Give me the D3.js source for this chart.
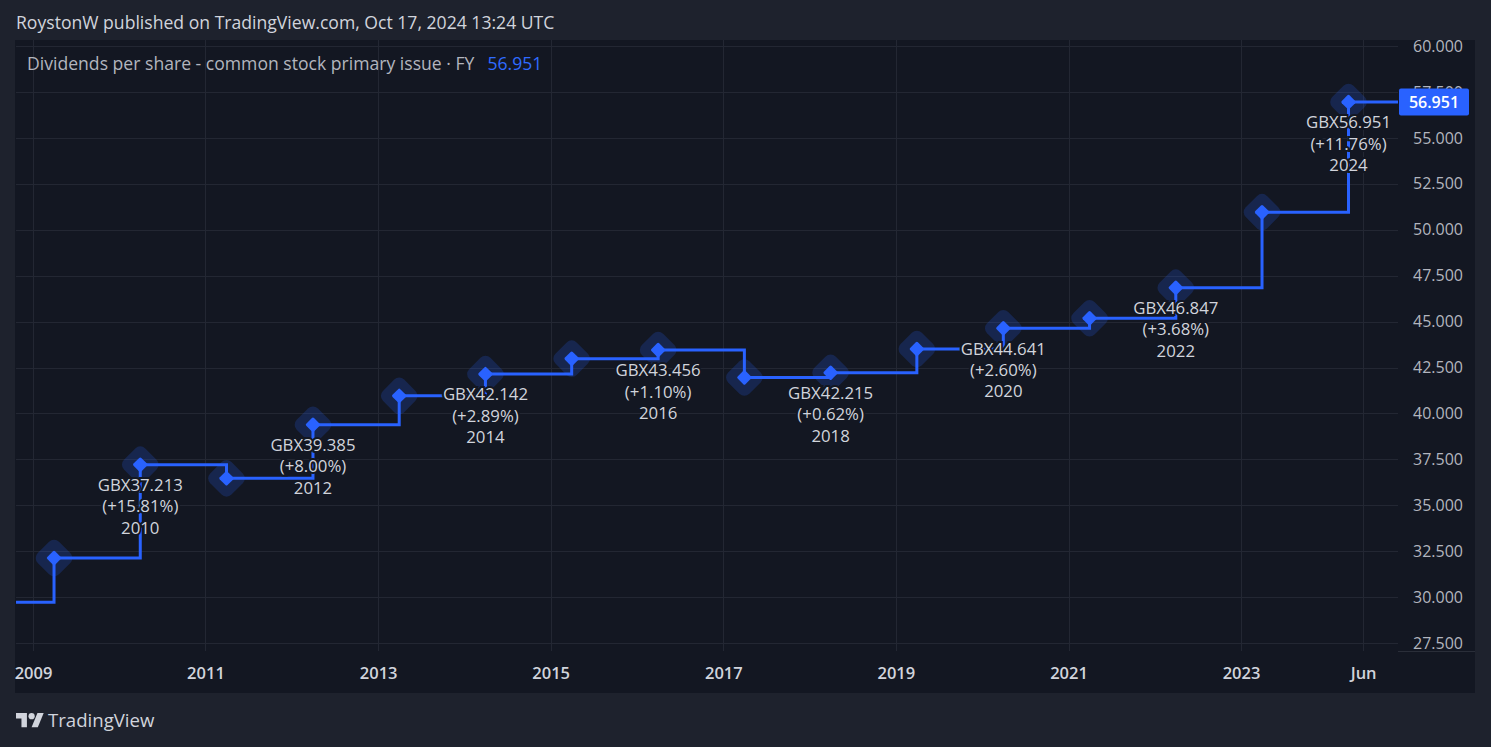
<!DOCTYPE html>
<html>
<head>
<meta charset="utf-8">
<script src="https://cdn.jsdelivr.net/npm/d3@7"></script>
<style>
  html, body { margin: 0; padding: 0; background: #1e222d; }
  svg { display: block; font-family: "Open Sans", sans-serif; }
</style>
</head>
<body>
<div id="chart"></div>
<script>
// fiscal year ends in March, values in GBX
const fiscalYears = [2008, 2009, 2010, 2011, 2012, 2013, 2014, 2015, 2016, 2017, 2018, 2019, 2020, 2021, 2022, 2023, 2024];
const dividends = [29.73, 32.133, 37.213, 36.468, 39.385, 40.958, 42.142, 42.983, 43.456, 41.955, 42.215, 43.510, 44.641, 45.184, 46.847, 50.958, 56.951];

const labelYears = [2010, 2012, 2014, 2016, 2018, 2020, 2022, 2024];
const changes = ["+15.81", "+8.00", "+2.89", "+1.10", "+0.62", "+2.60", "+3.68", "+11.76"];

const xTickDates = ["2009-01-01", "2011-01-01", "2013-01-01", "2015-01-01", "2017-01-01", "2019-01-01", "2021-01-01", "2023-01-01", "2024-06-01"];
const xTickLabels = ["2009", "2011", "2013", "2015", "2017", "2019", "2021", "2023", "Jun"];
const yTicks = [27.5, 30, 32.5, 35, 37.5, 40, 42.5, 45, 47.5, 50, 52.5, 55, 57.5, 60];

const W = 1491, H = 747;
const panel = { left: 15, right: 1475, top: 40, bottom: 693 };
const plot = { left: 16, right: 1398, top: 40, bottom: 651 };
const FONT = "'Open Sans', sans-serif";

const COLORS = {
    page: "#1e222d",
    panel: "#131722",
    grid: "#232733",
    line: "#2962ff",
    halo: "rgba(41,98,255,0.2)",
    text: "#d1d4dc",
    axisText: "#b2b5be"
};

const svg = d3.select("#chart").append("svg")
    .attr("width", W)
    .attr("height", H);

svg.append("rect")
    .attr("width", W).attr("height", H)
    .attr("fill", COLORS.page);

svg.append("rect")
    .attr("x", panel.left).attr("y", panel.top)
    .attr("width", panel.right - panel.left)
    .attr("height", panel.bottom - panel.top)
    .attr("fill", COLORS.panel);

// scales
const x = d3.scaleTime()
    .domain([new Date(2009, 0, 1), new Date(2023, 0, 1)])
    .range([33, 1241]);

const y = d3.scaleLinear()
    .domain([27.07, 60.33])
    .range([plot.bottom, plot.top]);

const points = fiscalYears.map((yr, i) => ({ year: yr, date: new Date(yr, 2, 31), value: dividends[i] }));

svg.append("defs").append("clipPath")
    .attr("id", "plotClip")
    .append("rect")
    .attr("x", plot.left).attr("y", plot.top)
    .attr("width", plot.right - plot.left)
    .attr("height", plot.bottom - plot.top);

// grid
const grid = svg.append("g").attr("clip-path", "url(#plotClip)");
grid.selectAll(".hgrid")
    .data(yTicks)
    .enter().append("line")
    .attr("x1", plot.left).attr("x2", plot.right)
    .attr("y1", d => Math.round(y(d)) + 0.5)
    .attr("y2", d => Math.round(y(d)) + 0.5)
    .attr("stroke", COLORS.grid);

const xTicks = xTickDates.map(d => new Date(d + "T00:00:00"));
grid.selectAll(".vgrid")
    .data(xTicks)
    .enter().append("line")
    .attr("x1", d => Math.round(x(d)) + 0.5)
    .attr("x2", d => Math.round(x(d)) + 0.5)
    .attr("y1", plot.top).attr("y2", plot.bottom)
    .attr("stroke", COLORS.grid);

// axes
const yAxis = d3.axisRight(y)
    .tickValues(yTicks)
    .tickFormat(d3.format(".3f"))
    .tickSize(0)
    .tickPadding(0);

const yAxisG = svg.append("g")
    .attr("transform", `translate(${plot.right + 65},0)`)
    .call(yAxis)
    .attr("font-family", FONT);
yAxisG.select(".domain").remove();
yAxisG.selectAll("text")
    .attr("text-anchor", "end")
    .attr("fill", COLORS.axisText)
    .style("font-size", "16px");

svg.append("line")
    .attr("x1", plot.right).attr("x2", panel.right)
    .attr("y1", plot.bottom + 0.5).attr("y2", plot.bottom + 0.5)
    .attr("stroke", "#2a2e39");

const xAxis = d3.axisBottom(x)
    .tickValues(xTicks)
    .tickFormat((d, i) => xTickLabels[i])
    .tickSize(0)
    .tickPadding(0);

const xAxisG = svg.append("g")
    .attr("transform", `translate(0,${plot.bottom + 16})`)
    .call(xAxis)
    .attr("font-family", FONT);
xAxisG.select(".domain").remove();
xAxisG.selectAll("text")
    .attr("fill", COLORS.text)
    .style("font-size", "16.5px")
    .style("font-weight", "600");

// series
const chartG = svg.append("g").attr("clip-path", "url(#plotClip)");

chartG.selectAll(".halo")
    .data(points)
    .enter().append("rect")
    .attr("x", -15).attr("y", -15)
    .attr("width", 30).attr("height", 30)
    .attr("rx", 7)
    .attr("transform", d => `translate(${x(d.date)},${y(d.value)}) rotate(45)`)
    .attr("fill", COLORS.halo);

const stepLine = d3.line()
    .x(d => x(d.date))
    .y(d => y(d.value))
    .curve(d3.curveStepAfter);

chartG.append("path")
    .datum(points)
    .attr("d", stepLine)
    .attr("fill", "none")
    .attr("stroke", COLORS.line)
    .attr("stroke-width", 3);

const last = points[points.length - 1];
chartG.append("line")
    .attr("x1", x(last.date)).attr("x2", plot.right)
    .attr("y1", y(last.value)).attr("y2", y(last.value))
    .attr("stroke", COLORS.line)
    .attr("stroke-width", 3);

chartG.selectAll(".dot")
    .data(points)
    .enter().append("rect")
    .attr("x", -5.5).attr("y", -5.5)
    .attr("width", 11).attr("height", 11)
    .attr("rx", 1.5)
    .attr("transform", d => `translate(${x(d.date)},${y(d.value)}) rotate(45)`)
    .attr("fill", COLORS.line);

// value labels under every other point
const labelData = labelYears.map((yr, i) => {
    const p = points.find(pt => pt.year === yr);
    return { p: p, lines: [`GBX${p.value.toFixed(3)}`, `(${changes[i]}%)`, String(yr)] };
});

const labels = svg.append("g").selectAll("g")
    .data(labelData)
    .enter().append("g")
    .attr("transform", d => `translate(${x(d.p.date)},${y(d.p.value)})`);

labels.selectAll("text")
    .data(d => d.lines)
    .enter().append("text")
    .attr("x", 0)
    .attr("y", (d, i) => 20.5 + i * 21.3)
    .attr("dy", "0.35em")
    .attr("text-anchor", "middle")
    .attr("fill", COLORS.text)
    .attr("stroke", COLORS.panel)
    .attr("stroke-width", 4)
    .attr("paint-order", "stroke")
    .style("font-size", "16.8px")
    .text(d => d);

// last value tag on the price scale
const tag = svg.append("g")
    .attr("transform", `translate(${plot.right + 1},${y(last.value)})`);
tag.append("rect")
    .attr("x", 0).attr("y", -13.5)
    .attr("width", 70).attr("height", 27)
    .attr("rx", 2)
    .attr("fill", COLORS.line);
tag.append("text")
    .attr("x", 35).attr("dy", "0.35em")
    .attr("text-anchor", "middle")
    .attr("fill", "#ffffff")
    .style("font-size", "16px")
    .style("font-weight", "600")
    .text(last.value.toFixed(3));

// header + legend
svg.append("text")
    .attr("x", 16).attr("y", 23).attr("dy", "0.35em")
    .attr("fill", COLORS.text)
    .style("font-size", "17.6px")
    .text("RoystonW published on TradingView.com, Oct 17, 2024 13:24 UTC");

const legend = svg.append("text")
    .attr("x", 27).attr("y", 64).attr("dy", "0.35em")
    .style("font-size", "17.6px");
legend.append("tspan")
    .attr("fill", COLORS.axisText)
    .text("Dividends per share - common stock primary issue · FY");
legend.append("tspan")
    .attr("dx", 13)
    .attr("fill", "#2f6bff")
    .text(last.value.toFixed(3));

// TradingView logo
const logo = svg.append("g")
    .attr("transform", "translate(16,710) scale(0.78)")
    .attr("fill", COLORS.text);
logo.append("path").attr("d", "M0,4H14V22H7V11H0Z");
logo.append("circle").attr("cx", 20).attr("cy", 8).attr("r", 4);
logo.append("path").attr("d", "M28,22H20L27.5,4H35.5Z");

svg.append("text")
    .attr("x", 48).attr("y", 720).attr("dy", "0.35em")
    .attr("fill", COLORS.text)
    .style("font-size", "18.6px")
    .style("font-weight", "500")
    .text("TradingView");
</script>
</body>
</html>
